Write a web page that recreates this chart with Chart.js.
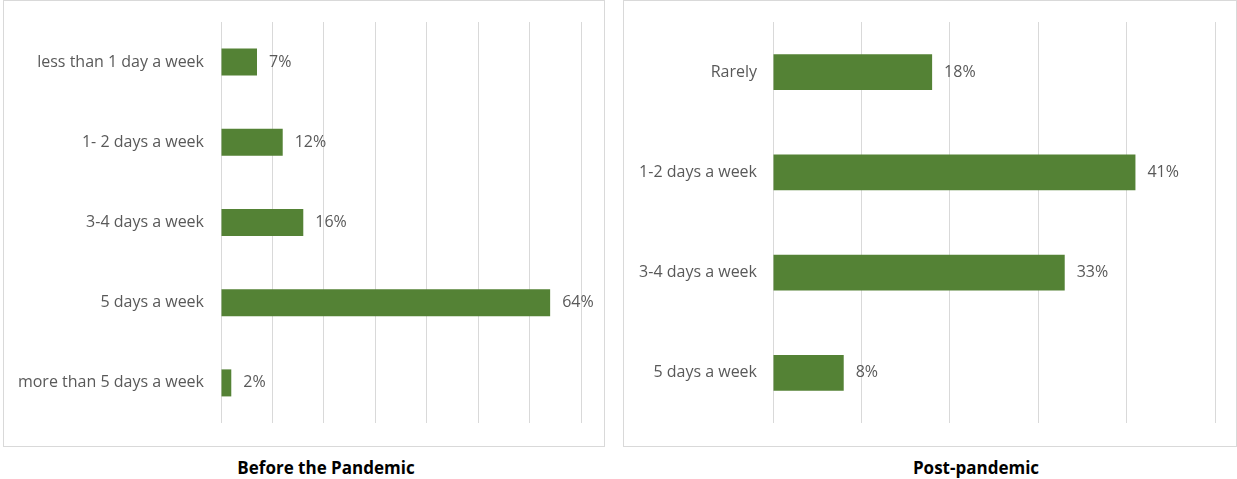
<!DOCTYPE html>
<html>
<head>
<meta charset="utf-8">
<script src="https://cdn.jsdelivr.net/npm/chart.js@4"></script>
<style>
  body { margin: 0; background: #fff; width: 1237px; height: 479px; position: relative; overflow: hidden; font-family: 'Open Sans', sans-serif; }
  .frame { position: absolute; border: 1px solid #d9d9d9; box-sizing: border-box; }
  .plot { position: absolute; }
  .caption { position: absolute; font-weight: bold; font-size: 17px; color: #000; transform: translateX(-50%); white-space: nowrap; }
</style>
</head>
<body>
<div class="frame" style="left:3px; top:0px; width:602px; height:447px;"></div>
<div class="frame" style="left:623px; top:0px; width:614px; height:447px;"></div>
<div class="plot" style="left:4px; top:1px; width:600px; height:444px;"><canvas id="before"></canvas></div>
<div class="plot" style="left:624px; top:1px; width:611px; height:444px;"><canvas id="after"></canvas></div>
<div class="caption" style="left:326px; top:456px;">Before the Pandemic</div>
<div class="caption" style="left:976px; top:456px;">Post-pandemic</div>

<script>
// Office-frequency shares, before and after the pandemic
const beforeLabels = ['less than 1 day a week', '1- 2 days a week', '3-4 days a week', '5 days a week', 'more than 5 days a week'];
const beforeValues = [7, 12, 16, 64, 2];

const afterLabels = ['Rarely', '1-2 days a week', '3-4 days a week', '5 days a week'];
const afterValues = [18, 41, 33, 8];

const barColor = '#548235';
const textColor = '#595959';
const gridColor = '#d9d9d9';
const labelFont = { family: "'Open Sans', sans-serif", size: 16 };

// draws "n%" just past the end of every bar
const valueLabels = {
  id: 'valueLabels',
  afterDatasetsDraw(chart) {
    const ctx = chart.ctx;
    ctx.save();
    ctx.font = `${labelFont.size}px ${labelFont.family}`;
    ctx.fillStyle = textColor;
    ctx.textAlign = 'left';
    ctx.textBaseline = 'middle';
    chart.getDatasetMeta(0).data.forEach((bar, i) => {
      ctx.fillText(chart.data.datasets[0].data[i] + '%', bar.x + 12, bar.y);
    });
    ctx.restore();
  }
};

const makeChart = (id, labels, values, cfg) => {
  const ctx = document.getElementById(id).getContext('2d');
  return new Chart(ctx, {
    type: 'bar',
    data: {
      labels: labels,
      datasets: [{
        data: values,
        backgroundColor: barColor,
        borderWidth: 0,
        categoryPercentage: 1,
        barPercentage: cfg.barPct,
      }],
    },
    options: {
      indexAxis: 'y',
      responsive: true,
      maintainAspectRatio: false,
      animation: false,
      layout: {
        padding: { left: 0, top: 21, right: cfg.padRight, bottom: 22 },
      },
      plugins: {
        legend: { display: false },
        tooltip: { enabled: false },
      },
      scales: {
        x: {
          min: 0,
          max: cfg.max,
          ticks: { display: false, stepSize: 10 },
          grid: { color: gridColor, lineWidth: 1, drawTicks: false },
          border: { display: false },
          afterFit: (scale) => {
            scale.height = 0;
            scale.paddingLeft = scale.paddingRight = 0;
          },
        },
        y: {
          ticks: { color: textColor, font: labelFont, padding: cfg.tickPad },
          grid: { display: false, drawTicks: false },
          border: { display: false },
          afterFit: (scale) => {
            scale.width = cfg.axisWidth;
            scale.paddingTop = scale.paddingBottom = 0;
          },
        },
      },
    },
    plugins: [valueLabels],
  });
};

makeChart('before', beforeLabels, beforeValues, { max: 70, barPct: 0.337, padRight: 23, tickPad: 17, axisWidth: 217 });
makeChart('after', afterLabels, afterValues, { max: 50, barPct: 0.355, padRight: 20, tickPad: 16, axisWidth: 149 });
</script>
</body>
</html>
